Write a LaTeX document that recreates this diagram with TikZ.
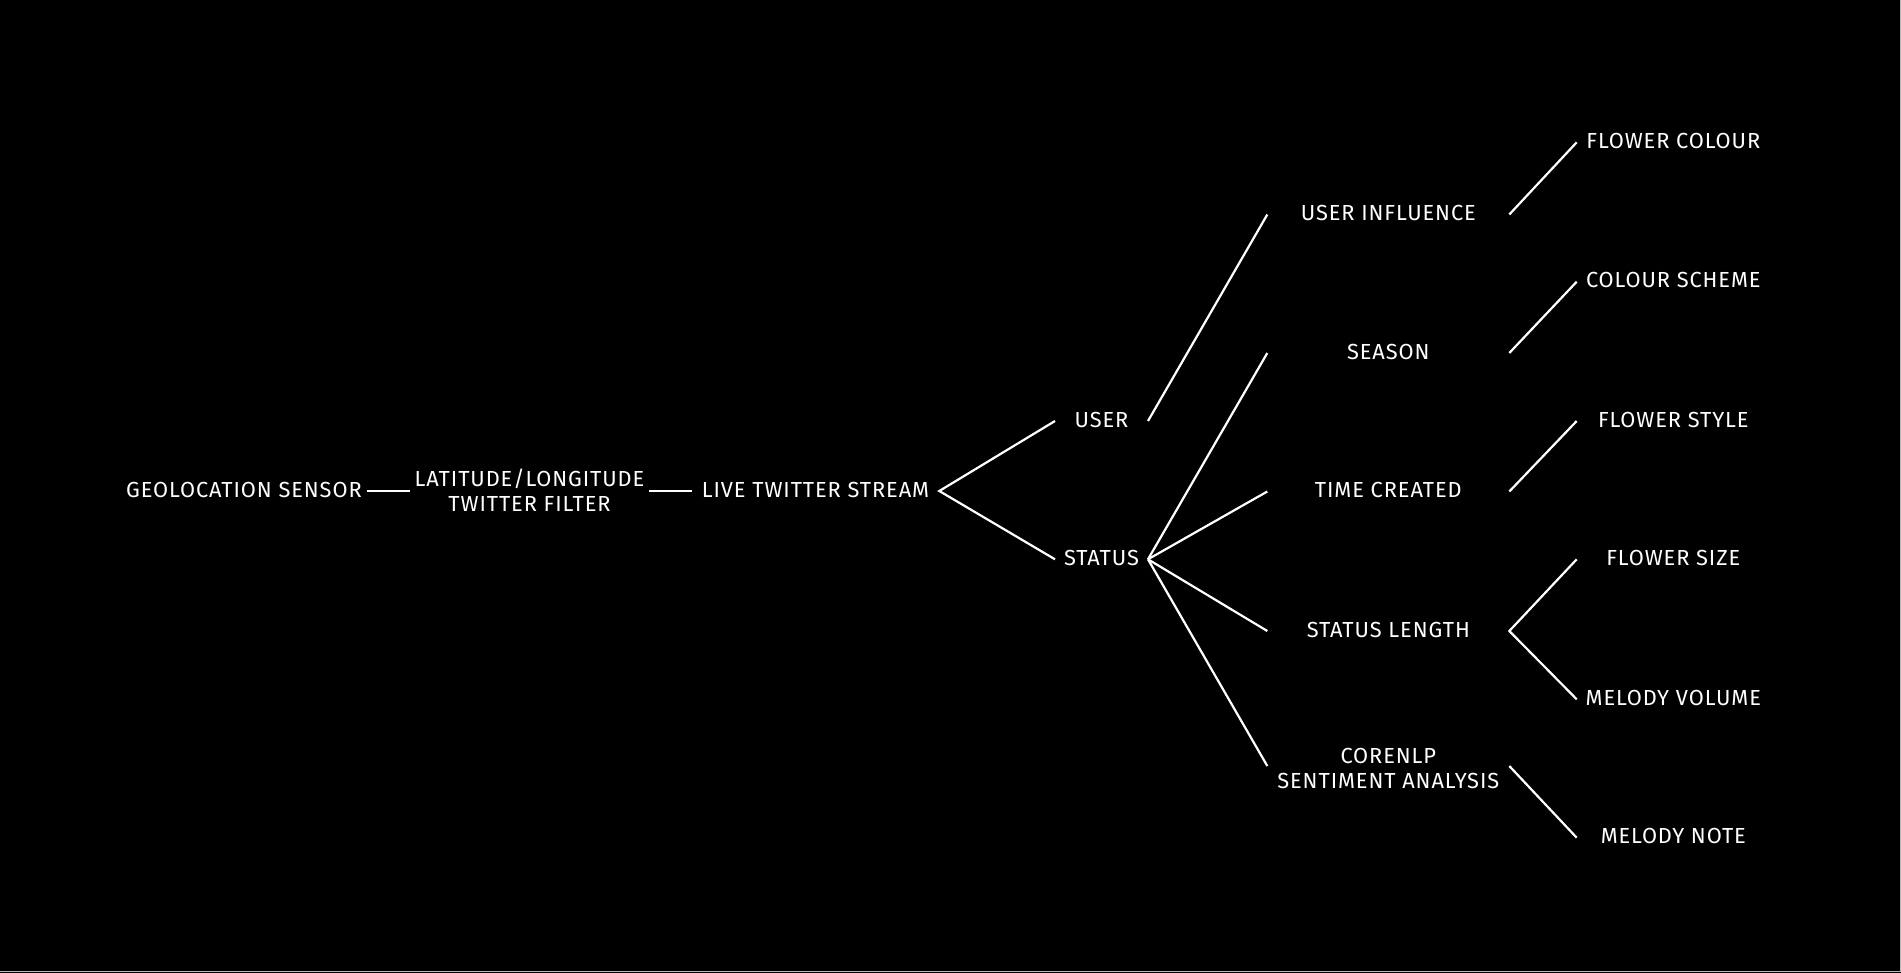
\documentclass[tikz,border=0pt]{standalone}
\usepackage{fontspec}
\setmainfont{Fira Sans}[LetterSpace=4.2]
\begin{document}
\begin{tikzpicture}[x=1pt,y=-1pt,
  lbl/.style={text=white, inner sep=0pt, outer sep=0pt, font=\fontsize{21.8}{24.5}\selectfont,
              text height=12pt, text depth=0pt, align=center},
  lbl2/.style={text=white, inner sep=0pt, outer sep=0pt, font=\fontsize{21.8}{24.5}\selectfont, align=center},
  link/.style={draw=white, line width=2.2pt}]
\useasboundingbox (0,0) rectangle (1901,972);
\fill[black] (-5,-5) rectangle (1906,977);
\draw[gray!55, line width=1.4pt] (0,971.3) -- (1900.3,971.3) -- (1900.3,0);
% column 0
\node[lbl, minimum width=245.4pt] (geo) at (244,491) {GEOLOCATION SENSOR};
\node[lbl2, minimum width=239pt] (lat) at (529.5,490) {LATITUDE/LONGITUDE\\TWITTER FILTER};
\node[lbl, minimum width=247.6pt] (live) at (815.5,491) {LIVE TWITTER STREAM};
% column 1
\node[lbl, minimum width=93pt] (user) at (1101.5,421) {USER};
\node[lbl, minimum width=93pt] (status) at (1101.5,559.3) {STATUS};
% column 2
\node[lbl, minimum width=242pt] (infl) at (1388.3,214.5) {USER INFLUENCE};
\node[lbl, minimum width=242pt] (season) at (1388.3,353) {SEASON};
\node[lbl, minimum width=242pt] (time) at (1388.3,491.5) {TIME CREATED};
\node[lbl, minimum width=242pt] (length) at (1388.3,631) {STATUS LENGTH};
\node[lbl2, minimum width=242pt] (core) at (1388.3,768.5) {CORENLP\\SENTIMENT ANALYSIS};
% column 3
\node[lbl, minimum width=193.2pt] (fcol) at (1673.3,142.3) {FLOWER COLOUR};
\node[lbl, minimum width=193.2pt] (scheme) at (1673.3,281.7) {COLOUR SCHEME};
\node[lbl, minimum width=193.2pt] (fstyle) at (1673.3,421) {FLOWER STYLE};
\node[lbl, minimum width=193.2pt] (fsize) at (1673.3,559.3) {FLOWER SIZE};
\node[lbl, minimum width=193.2pt] (mvol) at (1673.3,699.3) {MELODY VOLUME};
\node[lbl, minimum width=193.2pt] (mnote) at (1673.3,837.7) {MELODY NOTE};
% connectors
\draw[link] (geo.east) -- (lat.west |- geo.east);
\draw[link] (lat.east |- live.west) -- (live.west);
\draw[link] (user.west) -- (live.east) -- (status.west);
\draw[link] (user.east) -- (infl.west);
\draw[link] (status.east) -- (season.west);
\draw[link] (status.east) -- (time.west);
\draw[link] (status.east) -- (length.west);
\draw[link] (status.east) -- ([yshift=2.5pt]core.west);
\draw[link] (infl.east) -- (fcol.west);
\draw[link] (season.east) -- (scheme.west);
\draw[link] (time.east) -- (fstyle.west);
\draw[link] (fsize.west) -- (length.east) -- (mvol.west);
\draw[link] ([yshift=2.5pt]core.east) -- (mnote.west);
\end{tikzpicture}
\end{document}
